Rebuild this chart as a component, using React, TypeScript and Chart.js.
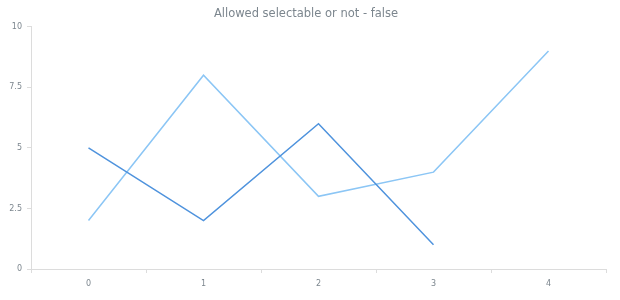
import React, { useEffect, useRef } from "react";
import { Chart, registerables } from "chart.js";

Chart.register(...registerables);

const categories = ["0", "1", "2", "3", "4"];
const seriesA = [5, 2, 6, 1, null];
const seriesB = [2, 8, 3, 4, 9];
const yTicks = [0, 2.5, 5, 7.5, 10];

const GRAY = "#7c868e";
const AXIS = "#dcdcdc";

export default function App() {
  const ref = useRef<HTMLCanvasElement | null>(null);

  useEffect(() => {
    if (!ref.current) return;
    const chart = new Chart(ref.current, {
      type: "line",
      data: {
        labels: categories,
        datasets: [
          {
            label: "Series 1",
            data: seriesA,
            borderColor: "#4f93dd",
            borderWidth: 1.5,
            pointRadius: 0,
            tension: 0,
            fill: false,
          },
          {
            label: "Series 2",
            data: seriesB,
            borderColor: "#8cc6f5",
            borderWidth: 1.5,
            pointRadius: 0,
            tension: 0,
            fill: false,
          },
        ],
      },
      options: {
        animation: false,
        responsive: false,
        layout: { padding: { left: 6, right: 14, top: 0, bottom: 0 } },
        plugins: {
          legend: { display: false },
          tooltip: { enabled: false },
          title: {
            display: true,
            text: "Allowed selectable or not - false",
            color: GRAY,
            font: { family: "DejaVu Sans", size: 11.5, weight: "normal" },
            padding: { top: 7, bottom: 6 },
          },
        },
        scales: {
          x: {
            type: "category",
            offset: true,
            grid: {
              offset: true,
              drawOnChartArea: false,
              drawTicks: true,
              tickLength: 4,
              color: AXIS,
            },
            border: { color: AXIS },
            ticks: {
              color: GRAY,
              font: { family: "DejaVu Sans", size: 8 },
              padding: 6,
              maxRotation: 0,
            },
            afterFit: (s: any) => {
              s.height = 31;
            },
          },
          y: {
            min: 0,
            max: 10,
            afterBuildTicks: (s: any) => {
              s.ticks = yTicks.map((v) => ({ value: v }));
            },
            grid: {
              drawOnChartArea: false,
              drawTicks: true,
              tickLength: 4,
              color: AXIS,
            },
            border: { color: AXIS },
            ticks: {
              color: GRAY,
              font: { family: "DejaVu Sans", size: 8 },
              padding: 5,
            },
            afterFit: (s: any) => {
              s.width = 25;
            },
          },
        },
      },
    });
    return () => chart.destroy();
  }, []);

  return (
    <div style={{ position: "fixed", left: 0, top: 0, width: 620, height: 300, background: "#fff" }}>
      <canvas ref={ref} width={620} height={300} />
    </div>
  );
}
